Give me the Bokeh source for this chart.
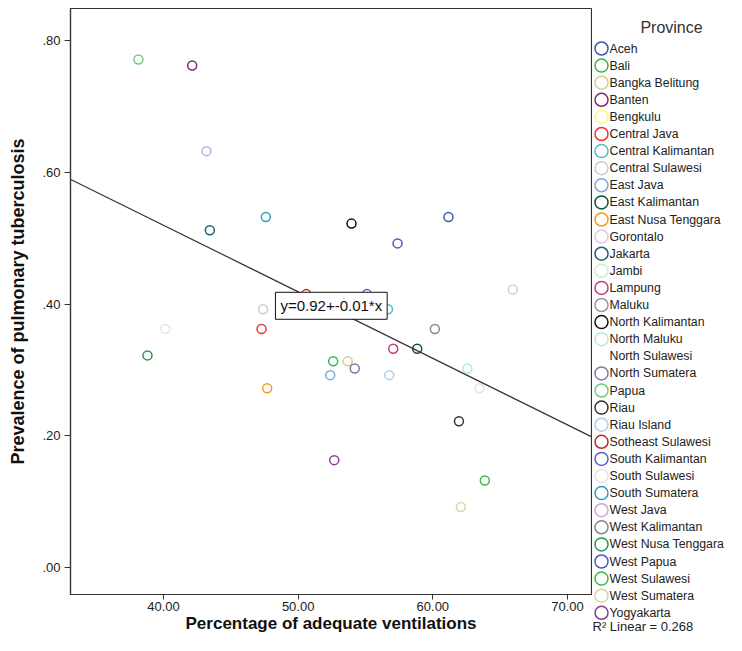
from bokeh.plotting import figure
from bokeh.models import ColumnDataSource, Range1d, FixedTicker, Slope, Label
from bokeh.layouts import row, column
from bokeh.embed import file_html
from bokeh.resources import INLINE
from bokeh.core.properties import value

# ---------------- data ----------------
provinces = [
    "Aceh", "Bali", "Bangka Belitung", "Banten", "Bengkulu", "Central Java",
    "Central Kalimantan", "Central Sulawesi", "East Java", "East Kalimantan",
    "East Nusa Tenggara", "Gorontalo", "Jakarta", "Jambi", "Lampung", "Maluku",
    "North Kalimantan", "North Maluku", "North Sulawesi", "North Sumatera",
    "Papua", "Riau", "Riau Island", "Sotheast Sulawesi", "South Kalimantan",
    "South Sulawesi", "South Sumatera", "West Java", "West Kalimantan",
    "West Nusa Tenggara", "West Papua", "West Sulawesi", "West Sumatera",
    "Yogyakarta",
]
colors = [
    "#3e58ac", "#2eb848", "#d3ce97", "#7c287d", "#fbf873", "#ef3338",
    "#48c2c5", "#cccccc", "#7aaad5", "#0a562c",
    "#f8981d", "#e2c4ea", "#1a5f76", "#d2efcc", "#bb3f7f", "#999999",
    "#111111", "#b6e7e8", "#ffffff", "#797aa7",
    "#70cc7c", "#333333", "#acd0ee", "#bb2a2a", "#5a5ec8",
    "#e6e6e6", "#2f9cc0", "#c9a6dc", "#888888",
    "#1e9a55", "#4a5cc0", "#3cb84a", "#dcd4a4",
    "#8e3a94",
]
nan = float("nan")
vent_pct = [
    61.16, 52.60, 53.68, 42.13, nan, 47.28,
    56.67, 47.39, 52.38, 58.84,
    47.70, 65.94, 43.44, 63.46, 57.06, nan,
    53.96, 62.57, nan, 54.20,
    38.14, 61.94, 56.76, 50.60, 55.11,
    40.13, 47.60, 43.19, 60.15,
    38.81, 57.38, 63.86, 62.08,
    52.68,
]
tb_prev = [
    0.532, 0.313, 0.313, 0.762, nan, 0.362,
    0.392, 0.392, 0.292, 0.332,
    0.272, 0.422, 0.512, 0.272, 0.332, nan,
    0.522, 0.302, nan, 0.302,
    0.771, 0.222, 0.292, 0.415, 0.415,
    0.362, 0.532, 0.632, 0.362,
    0.322, 0.492, 0.132, 0.092,
    0.163,
]
x_ticks = [40, 50, 60, 70]
x_tick_labels = ["40.00", "50.00", "60.00", "70.00"]
y_ticks = [0.0, 0.2, 0.4, 0.6, 0.8]
y_tick_labels = [".00", ".20", ".40", ".60", ".80"]
fit_intercept = 0.9235
fit_slope = -0.0101
equation_text = "y=0.92+-0.01*x"
r2_text = "R\u00b2 Linear = 0.268"
x_title = "Percentage of adequate ventilations"
y_title = "Prevalence of pulmonary tuberculosis"
legend_title = "Province"

# ---------------- main plot ----------------
FONT = "Liberation Sans"
H = 635
W_MAIN = 592
W_LEG = 134

p = figure(
    width=W_MAIN, height=H,
    x_range=Range1d(33.094, 71.782), y_range=Range1d(-0.0409, 0.8485),
    output_backend="svg", toolbar_location=None,
    min_border_left=70, min_border_right=1, min_border_top=8, min_border_bottom=40,
    background_fill_color="white", border_fill_color="white",
)
p.outline_line_color = "#333333"
p.outline_line_width = 1.2
p.grid.visible = False

for ax in (p.xaxis[0], p.yaxis[0]):
    ax.axis_line_color = "#333333"
    ax.axis_line_width = 1.2
    ax.major_tick_line_color = "#333333"
    ax.major_tick_in = 0
    ax.minor_tick_line_color = None
    ax.major_label_text_font = FONT
    ax.major_label_text_font_size = "13px"
    ax.major_label_text_color = "#222222"
    ax.axis_label_text_font = FONT
    ax.axis_label_text_font_style = "bold"
    ax.axis_label_text_color = "#111111"

p.xaxis.major_tick_out = 5
p.xaxis.major_label_standoff = 2
p.xaxis.axis_label_text_font_size = "17px"
p.xaxis.axis_label_standoff = 0
p.yaxis.major_tick_out = 6
p.yaxis.major_label_standoff = 4
p.yaxis.axis_label_text_font_size = "18px"
p.yaxis.axis_label_standoff = 11

p.xaxis.ticker = FixedTicker(ticks=x_ticks)
p.xaxis.major_label_overrides = dict(zip(x_ticks, x_tick_labels))
p.yaxis.ticker = FixedTicker(ticks=y_ticks)
p.yaxis.major_label_overrides = dict(zip(y_ticks, y_tick_labels))
p.xaxis.axis_label = x_title
p.yaxis.axis_label = y_title

src = ColumnDataSource(dict(x=vent_pct, y=tb_prev, color=colors, province=provinces))
p.scatter("x", "y", source=src, size=9, marker="circle",
          fill_color=None, line_color="color", line_width=1.5)

p.add_layout(Slope(gradient=fit_slope, y_intercept=fit_intercept,
                   line_color="#333333", line_width=1.2))

p.add_layout(Label(
    x=52.46, y=0.3973, text=equation_text,
    text_align="center", text_baseline="middle",
    text_font=FONT, text_font_size="15px", text_color="#111111",
    background_fill_color="white", border_line_color="#111111",
    border_line_width=1, padding=5,
))

# ---------------- legend panel ----------------
# item i sits at pixel 48 + 17.1*i from the top of the panel
leg = figure(
    width=W_LEG, height=H,
    x_range=Range1d(0, W_LEG), y_range=Range1d((H - 48) / 17.1, -48 / 17.1),
    x_axis_type=None, y_axis_type=None,
    output_backend="svg", toolbar_location=None,
    min_border_left=0, min_border_right=0, min_border_top=0, min_border_bottom=0,
    background_fill_color="white", border_fill_color="white",
)
leg.outline_line_color = None
leg.grid.visible = False

lsrc = ColumnDataSource(dict(idx=list(range(len(provinces))), label=provinces, color=colors))
leg.scatter(x=9, y="idx", source=lsrc, size=13, marker="circle",
            fill_color=None, line_color="color", line_width=1.5)
leg.text(x=17, y="idx", text="label", source=lsrc,
         text_font=value(FONT), text_font_size="12.3px", text_color="#222222",
         text_align="left", text_baseline="middle")

leg.add_layout(Label(x=79, y=(27 - 48) / 17.1, text=legend_title, text_align="center",
                     text_baseline="middle", text_font=FONT, text_font_size="16px",
                     text_color="#333333"))
leg.add_layout(Label(x=0, y=(626 - 48) / 17.1, text=r2_text, text_align="left",
                     text_baseline="middle", text_font=FONT, text_font_size="13px",
                     text_color="#222222"))

layout = row(p, column(leg), spacing=0)
open("out.html", "w").write(file_html(layout, INLINE))
